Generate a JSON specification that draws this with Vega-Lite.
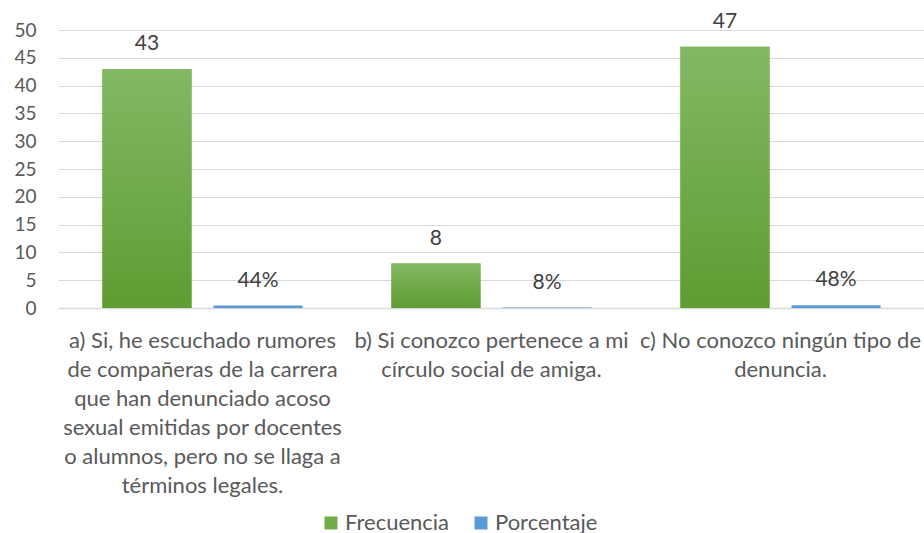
{
  "$schema": "https://vega.github.io/schema/vega-lite/v6.json",
  "width": 867,
  "height": 278,
  "autosize": {"type": "none"},
  "padding": {"left": 58, "top": 30, "right": 0, "bottom": 225},
  "background": "white",
  "config": {"view": {"stroke": null}, "font": "Lato"},
  "data": {
    "values": [
      {"cat": "a) Si, he escuchado rumores|de compañeras de la carrera|que han denunciado acoso|sexual emitidas por docentes|o alumnos, pero no se llaga a|términos legales.", "serie": "Frecuencia", "valor": 43, "label": "43"},
      {"cat": "a) Si, he escuchado rumores|de compañeras de la carrera|que han denunciado acoso|sexual emitidas por docentes|o alumnos, pero no se llaga a|términos legales.", "serie": "Porcentaje", "valor": 0.44, "label": "44%"},
      {"cat": "b) Si conozco pertenece a mi|círculo social de amiga.", "serie": "Frecuencia", "valor": 8, "label": "8"},
      {"cat": "b) Si conozco pertenece a mi|círculo social de amiga.", "serie": "Porcentaje", "valor": 0.08, "label": "8%"},
      {"cat": "c) No conozco ningún tipo de|denuncia.", "serie": "Frecuencia", "valor": 47, "label": "47"},
      {"cat": "c) No conozco ningún tipo de|denuncia.", "serie": "Porcentaje", "valor": 0.48, "label": "48%"}
    ]
  },
  "encoding": {
    "x": {
      "field": "cat",
      "type": "nominal",
      "sort": null,
      "title": null,
      "scale": {"paddingInner": 0, "paddingOuter": 0},
      "axis": {
        "labelAngle": 0,
        "labelExpr": "split(datum.label, '|')",
        "labelFont": "Lato",
        "labelFontSize": 22,
        "labelColor": "#595959",
        "labelLineHeight": 29,
        "labelPadding": 22,
        "labelLimit": 1000,
        "labelOverlap": false,
        "labelBound": false,
        "ticks": false,
        "domain": true,
        "domainColor": "#d9d9d9",
        "domainWidth": 1.5
      }
    },
    "xOffset": {
      "field": "serie",
      "type": "nominal",
      "sort": ["Frecuencia", "Porcentaje"],
      "scale": {"paddingInner": 0.198, "paddingOuter": 0.4}
    },
    "y": {
      "field": "valor",
      "type": "quantitative",
      "title": null,
      "scale": {"domain": [0, 50], "nice": false},
      "axis": {
        "values": [0, 5, 10, 15, 20, 25, 30, 35, 40, 45, 50],
        "grid": true,
        "gridColor": "#d9d9d9",
        "gridWidth": 1,
        "domain": false,
        "ticks": false,
        "labelFont": "Lato",
        "labelFontSize": 19,
        "labelColor": "#595959",
        "labelPadding": 22
      }
    }
  },
  "layer": [
    {
      "mark": {"type": "bar"},
      "encoding": {
        "color": {
          "field": "serie",
          "type": "nominal",
          "scale": {"domain": ["Frecuencia", "Porcentaje"], "range": ["#70ad47", "#5b9bd5"]},
          "legend": {
            "orient": "none",
            "legendX": 262,
            "legendY": 482,
            "direction": "horizontal",
            "title": null,
            "symbolType": "square",
            "symbolSize": 169,
            "symbolStrokeWidth": 0,
            "labelFont": "Lato",
            "labelFontSize": 22,
            "labelColor": "#595959",
            "labelOffset": 3,
            "columnPadding": 20
          }
        }
      }
    },
    {
      "transform": [{"filter": "datum.serie == 'Frecuencia'"}],
      "mark": {
        "type": "bar",
        "fill": {
          "gradient": "linear",
          "x1": 0, "y1": 0, "x2": 0, "y2": 1,
          "stops": [
            {"offset": 0, "color": "#82b864"},
            {"offset": 1, "color": "#5e9d32"}
          ]
        }
      },
      "encoding": {}
    },
    {
      "mark": {"type": "text", "baseline": "middle", "dy": -25, "font": "Lato", "fontSize": 21, "color": "#404040"},
      "encoding": {"text": {"field": "label"}}
    }
  ]
}
